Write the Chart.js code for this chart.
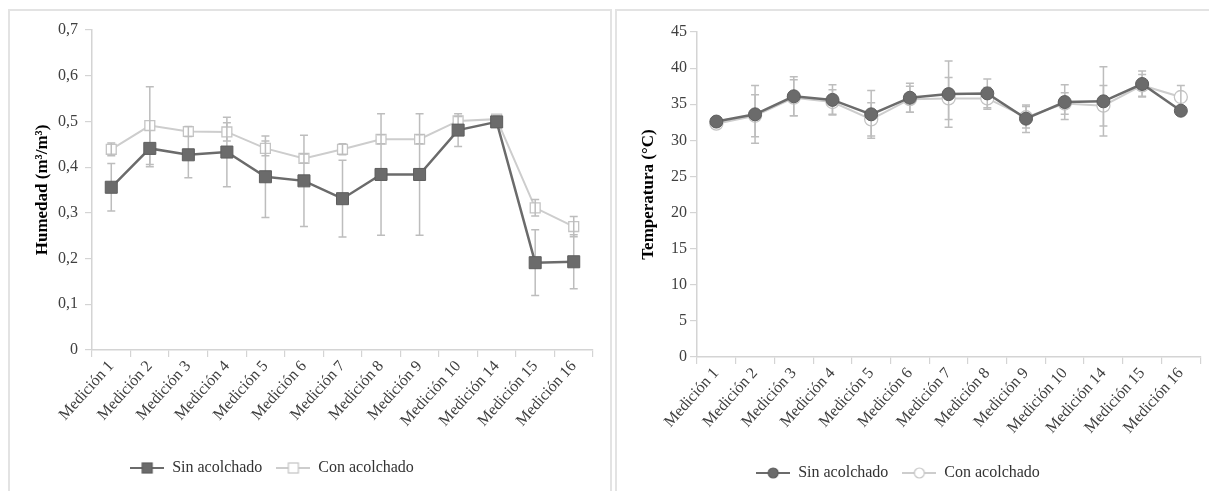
<!DOCTYPE html>
<html>
<head>
<meta charset="utf-8">
<script src="https://cdn.jsdelivr.net/npm/chart.js@4.4.1/dist/chart.umd.min.js"></script>
<style>
    body { margin: 0; background: #fff; width: 1209px; height: 491px; overflow: hidden; position: relative; }
    .frame { position: absolute; border: 2px solid #e3e3e3; border-bottom: none; box-sizing: border-box; }
    canvas { position: absolute; }
</style>
</head>
<body>
<div class="frame" style="left:8px;top:9px;width:604px;height:482px"></div>
<div class="frame" style="left:615px;top:9px;width:596px;height:482px"></div>
<canvas id="humChart" width="600" height="481" style="left:10px;top:10px"></canvas>
<canvas id="tempChart" width="592" height="481" style="left:616px;top:10px"></canvas>
<script>
// data
const categories = ['Medición 1', 'Medición 2', 'Medición 3', 'Medición 4', 'Medición 5', 'Medición 6',
    'Medición 7', 'Medición 8', 'Medición 9', 'Medición 10', 'Medición 14', 'Medición 15', 'Medición 16'];

const humSin = [0.356, 0.441, 0.427, 0.433, 0.379, 0.370, 0.331, 0.384, 0.384, 0.481, 0.499, 0.191, 0.193];
const humSinErr = [0.052, 0.040, 0.050, 0.076, 0.089, 0.100, 0.084, 0.133, 0.133, 0.036, 0.010, 0.072, 0.059];
const humCon = [0.439, 0.491, 0.478, 0.477, 0.441, 0.419, 0.439, 0.461, 0.461, 0.501, 0.505, 0.311, 0.270];
const humConErr = [0.014, 0.085, 0.011, 0.020, 0.016, 0.010, 0.012, 0.010, 0.010, 0.010, 0.008, 0.018, 0.022];

const tempSin = [32.6, 33.6, 36.1, 35.6, 33.6, 35.9, 36.4, 36.5, 33.0, 35.3, 35.4, 37.8, 34.1];
const tempSinErr = [0.3, 4.0, 2.7, 2.1, 3.3, 2.0, 4.6, 2.0, 1.9, 2.4, 4.8, 1.8, 0.4];
const tempCon = [32.3, 33.4, 35.9, 35.3, 32.9, 35.7, 35.8, 35.8, 33.2, 35.1, 34.8, 37.6, 36.0];
const tempConErr = [0.3, 2.9, 2.5, 1.7, 2.3, 1.8, 2.9, 1.5, 1.5, 1.5, 2.8, 1.5, 1.6];

const humTicks = ['0', '0,1', '0,2', '0,3', '0,4', '0,5', '0,6', '0,7'];
const tempTicks = ['0', '5', '10', '15', '20', '25', '30', '35', '40', '45'];

const FONT = "'Liberation Serif', 'Times New Roman', serif";
const AXIS = '#d4d4d4';
const DARK = '#6b6b6b';
const LIGHT = '#cdcdcd';
const ERR = '#bdbdbd';

// small canvas used as legend icon: line with marker on it
function legendIcon(shape, line, fill, border) {
    const c = document.createElement('canvas');
    c.width = 34; c.height = 14;
    const g = c.getContext('2d');
    g.strokeStyle = line; g.lineWidth = 2;
    g.beginPath(); g.moveTo(0, 7); g.lineTo(34, 7); g.stroke();
    g.fillStyle = fill; g.strokeStyle = border; g.lineWidth = 1.2;
    if (shape === 'rect') {
        g.fillRect(12, 2, 10, 10); g.strokeRect(12, 2, 10, 10);
    } else {
        g.beginPath(); g.arc(17, 7, 5, 0, Math.PI * 2); g.fill(); g.stroke();
    }
    return c;
}

// error bars drawn through the y scale
function drawErrors(chart, idx, color) {
    const ds = chart.data.datasets[idx];
    const meta = chart.getDatasetMeta(idx);
    const y = chart.scales.y;
    const ctx = chart.ctx;
    ctx.save();
    ctx.strokeStyle = color;
    ctx.lineWidth = 1.5;
    meta.data.forEach((pt, j) => {
        const e = ds.errors[j];
        if (!e) return;
        const t = y.getPixelForValue(ds.data[j] + e);
        const b = y.getPixelForValue(ds.data[j] - e);
        ctx.beginPath();
        ctx.moveTo(pt.x, t); ctx.lineTo(pt.x, b);
        ctx.moveTo(pt.x - 4, t); ctx.lineTo(pt.x + 4, t);
        ctx.moveTo(pt.x - 4, b); ctx.lineTo(pt.x + 4, b);
        ctx.stroke();
    });
    ctx.restore();
}

const errorBars = {
    id: 'errorBars',
    beforeDatasetsDraw(chart) { drawErrors(chart, 0, ERR); },
    afterDatasetDraw(chart, args) { if (args.index === 1) drawErrors(chart, 1, ERR); }
};

// put the legend where the reference has it
const legendPlace = {
    id: 'legendPlace',
    afterLayout(chart, args, opts) {
        const l = chart.legend;
        const dx = opts.cx - (l.left + l.right) / 2;
        const dy = opts.cy - (l.top + l.bottom) / 2;
        l.left += dx; l.right += dx; l.top += dy; l.bottom += dy;
    }
};

function makeChart(id, cfg) {
    const H = 481;
    return new Chart(document.getElementById(id), {
        type: 'line',
        data: {
            labels: categories,
            datasets: [{
                label: 'Sin acolchado',
                data: cfg.sin,
                errors: cfg.sinErr,
                borderColor: DARK,
                borderWidth: 2.5,
                pointStyle: cfg.shape,
                pointRadius: cfg.shape === 'rect' ? 8.5 : 6.5,
                pointBackgroundColor: DARK,
                pointBorderColor: '#5e5e5e',
                pointBorderWidth: 1,
                tension: 0,
                icon: legendIcon(cfg.shape, DARK, DARK, '#5e5e5e')
            }, {
                label: 'Con acolchado',
                data: cfg.con,
                errors: cfg.conErr,
                borderColor: LIGHT,
                borderWidth: 2,
                pointStyle: cfg.shape,
                pointRadius: cfg.shape === 'rect' ? 7 : 6.5,
                pointBackgroundColor: '#fff',
                pointBorderColor: '#c4c4c4',
                pointBorderWidth: 1.3,
                tension: 0,
                icon: legendIcon(cfg.shape, LIGHT, '#fff', '#c4c4c4')
            }]
        },
        options: {
            responsive: false,
            animation: false,
            layout: { padding: { top: cfg.top, right: cfg.right, left: 0, bottom: 0 } },
            plugins: {
                tooltip: { enabled: false },
                legend: {
                    position: 'bottom',
                    labels: {
                        usePointStyle: true,
                        pointStyleWidth: 34,
                        padding: 14,
                        color: '#333',
                        font: { family: FONT, size: 16 },
                        generateLabels(chart) {
                            return chart.data.datasets.map((ds, i) => ({
                                text: ds.label,
                                pointStyle: ds.icon,
                                fillStyle: '#fff',
                                strokeStyle: '#fff',
                                lineWidth: 0,
                                hidden: false,
                                datasetIndex: i,
                                fontColor: '#333'
                            }));
                        }
                    }
                },
                legendPlace: { cx: cfg.legendX, cy: cfg.legendY }
            },
            scales: {
                x: {
                    offset: true,
                    grid: { display: true, drawOnChartArea: false, offset: true, tickLength: 7, color: AXIS, lineWidth: 1.2 },
                    border: { color: AXIS, width: 1.5 },
                    ticks: {
                        autoSkip: false, minRotation: 48, maxRotation: 48, padding: 0,
                        color: '#404040', font: { family: FONT, size: 16 }
                    },
                    afterFit(s) { s.height = H - s.chart.legend.height - cfg.bottom; }
                },
                y: {
                    min: 0, max: cfg.max,
                    grid: { drawOnChartArea: false, tickLength: 7, color: AXIS, lineWidth: 1.2 },
                    border: { color: AXIS, width: 1.5 },
                    ticks: {
                        stepSize: cfg.step, padding: cfg.tickPad,
                        color: '#404040', font: { family: FONT, size: 16 },
                        callback: (v, i) => cfg.tickLabels[i]
                    },
                    title: {
                        display: true, text: cfg.title, color: '#000',
                        font: { family: FONT, size: 17, weight: 'bold' },
                        padding: { top: 22, bottom: 0 }
                    },
                    afterFit(s) { s.width = cfg.left; }
                }
            }
        },
        plugins: [errorBars, legendPlace]
    });
}

makeChart('humChart', {
    sin: humSin, sinErr: humSinErr, con: humCon, conErr: humConErr,
    shape: 'rect', max: 0.7, step: 0.1, tickLabels: humTicks,
    title: 'Humedad (m³/m³)', left: 82, top: 20, right: 17, bottom: 340, tickPad: 7,
    legendX: 262, legendY: 456
});

makeChart('tempChart', {
    sin: tempSin, sinErr: tempSinErr, con: tempCon, conErr: tempConErr,
    shape: 'circle', max: 45, step: 5, tickLabels: tempTicks,
    title: 'Temperatura (°C)', left: 81, top: 22, right: 5, bottom: 347, tickPad: 3,
    legendX: 282, legendY: 461
});
</script>
</body>
</html>
